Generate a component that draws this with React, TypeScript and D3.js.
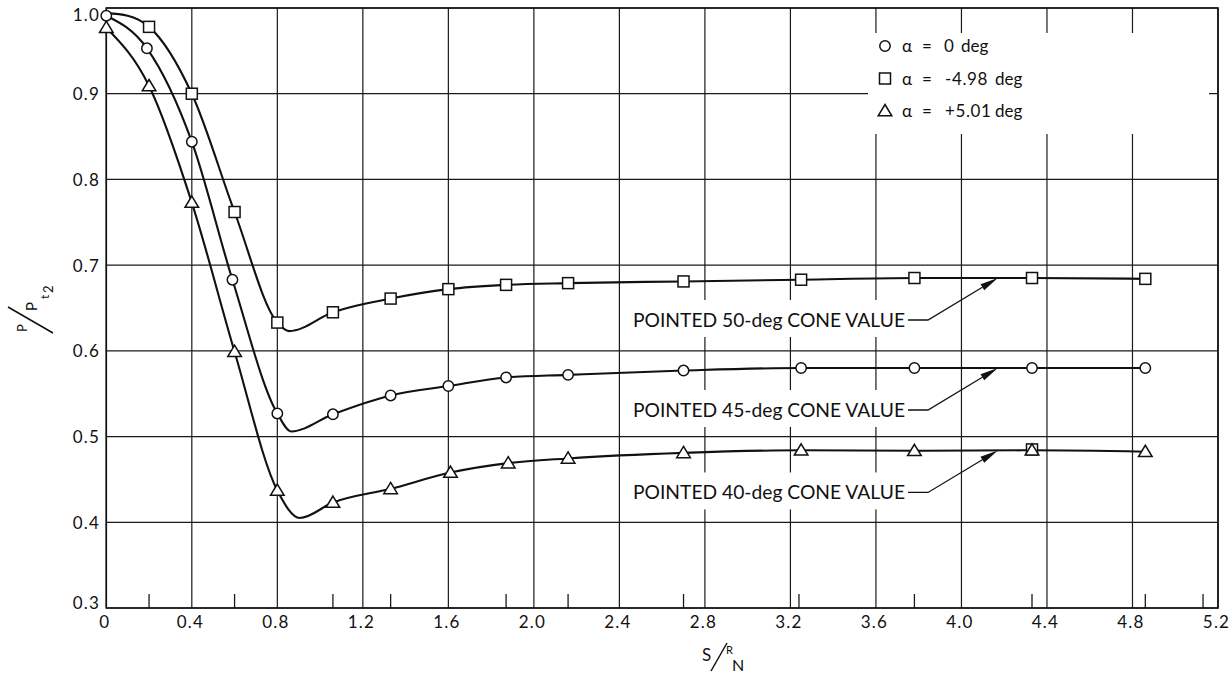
import React, { useEffect } from 'react';
import * as d3 from 'd3';

// Surface pressure ratio along a blunted cone, three angles of attack
const W = 1229;
const H = 673;

const xTickValues = [0, 0.4, 0.8, 1.2, 1.6, 2.0, 2.4, 2.8, 3.2, 3.6, 4.0, 4.4, 4.8, 5.2];
const yTickValues = [0.3, 0.4, 0.5, 0.6, 0.7, 0.8, 0.9, 1.0];
// pressure-orifice stations marked along the bottom edge
const orificeStations = [0.2, 0.6, 1.06, 1.33, 1.87, 2.16, 2.7, 3.24, 3.78, 4.33, 4.86, 5.13];

// alpha = 0 deg (circles)
const sZero = [0, 0.19, 0.4, 0.59, 0.8, 1.06, 1.33, 1.6, 1.87, 2.16, 2.7, 3.25, 3.78, 4.33, 4.86];
const pZero = [0.991, 0.953, 0.844, 0.683, 0.527, 0.526, 0.548, 0.559, 0.569, 0.572, 0.577, 0.58, 0.58, 0.58, 0.58];
// alpha = -4.98 deg (squares)
const sNeg = [0.2, 0.4, 0.6, 0.8, 1.06, 1.33, 1.6, 1.87, 2.16, 2.7, 3.25, 3.78, 4.33, 4.86];
const pNeg = [0.978, 0.9, 0.762, 0.633, 0.645, 0.661, 0.672, 0.677, 0.679, 0.681, 0.683, 0.685, 0.685, 0.684];
// alpha = +5.01 deg (triangles)
const sPos = [0, 0.2, 0.4, 0.6, 0.8, 1.06, 1.33, 1.61, 1.88, 2.16, 2.7, 3.25, 3.78, 4.33, 4.86];
const pPos = [0.977, 0.909, 0.773, 0.599, 0.437, 0.423, 0.439, 0.458, 0.469, 0.4745, 0.481, 0.484, 0.4834, 0.484, 0.4823];
// one extra square plotted under the triangle at the 4.33 station
const sNegExtra = [4.33];
const pNegExtra = [0.485];

// faired-curve knots that are not measured points (nose shoulder, overexpansion dip)
const fairZero = [[0.865, 0.506]];
const fairNeg = [[0, 0.994], [0.1, 0.991], [0.855, 0.623]];
const fairPos = [[0.905, 0.405]];

const legendLabels = ['0', '-4.98', '+5.01'];
const coneLabels = ['POINTED 50-deg CONE VALUE', 'POINTED 45-deg CONE VALUE', 'POINTED 40-deg CONE VALUE'];
const arrowStation = 4.17;

const FONT = 'Lato, "Noto Sans", sans-serif';

type Kind = 'circle' | 'square' | 'triangle';

function knots(s: number[], p: number[], extra: number[][]): [number, number][] {
  const pts: [number, number][] = s.map((v, i) => [v, p[i]]);
  extra.forEach(e => pts.push([e[0], e[1]]));
  pts.sort((a, b) => a[0] - b[0]);
  return pts;
}

function valueAt(pts: [number, number][], s: number): number {
  const i = d3.bisector((d: [number, number]) => d[0]).left(pts, s);
  const a = pts[Math.max(0, i - 1)];
  const b = pts[Math.min(pts.length - 1, i)];
  if (a[0] === b[0]) return a[1];
  return a[1] + ((s - a[0]) / (b[0] - a[0])) * (b[1] - a[1]);
}

function Marker({ kind, x, y }: { kind: Kind; x: number; y: number }) {
  const common = { fill: '#fff', stroke: '#111', strokeWidth: 1.5 };
  if (kind === 'circle') return <circle cx={x} cy={y} r={5.2} {...common} />;
  if (kind === 'square') return <rect x={x - 5.5} y={y - 5.5} width={11} height={11} {...common} />;
  return <path d={`M${x},${y - 6.5}L${x + 6.8},${y + 4.8}L${x - 6.8},${y + 4.8}Z`} {...common} />;
}

export default function App() {
  useEffect(() => {
    document.body.style.margin = '0';
  }, []);

  const x = d3.scaleLinear().domain([0, 5.2]).range([106.3, 1218]);
  const y = d3.scaleLinear().domain([0.3, 1.0]).range([608, 8]);

  const series = [
    { kind: 'circle' as Kind, s: sZero, p: pZero, pts: knots(sZero, pZero, fairZero) },
    { kind: 'square' as Kind, s: sNeg, p: pNeg, pts: knots(sNeg, pNeg, fairNeg) },
    { kind: 'triangle' as Kind, s: sPos, p: pPos, pts: knots(sPos, pPos, fairPos) },
  ];

  const line = d3
    .line<[number, number]>()
    .x(d => x(d[0]))
    .y(d => y(d[1]))
    .curve(d3.curveMonotoneX);

  // callout order: 50-deg (squares), 45-deg (circles), 40-deg (triangles)
  const annotated = [series[1], series[0], series[2]];

  const gridColor = '#1a1a1a';

  return (
    <svg width={W} height={H} style={{ position: 'absolute', left: 0, top: 0, background: '#fff' }}
      fontFamily={FONT}>
      <rect x={0} y={0} width={W} height={H} fill="#fff" />

      {/* grid */}
      {yTickValues.map(v => (
        <line key={'h' + v} x1={x(0)} x2={x(5.2)} y1={y(v)} y2={y(v)} stroke={gridColor} strokeWidth={1.2} />
      ))}
      {xTickValues.map(v => (
        <line key={'v' + v} x1={x(v)} x2={x(v)} y1={y(1.0)} y2={y(0.3)} stroke={gridColor} strokeWidth={1.2} />
      ))}
      {orificeStations.map(v => (
        <line key={'t' + v} x1={x(v)} x2={x(v)} y1={y(0.3)} y2={y(0.3) - 14} stroke={gridColor} strokeWidth={1.3} />
      ))}

      {/* white panels that interrupt the grid behind the lettering */}
      <rect x={868} y={33} width={1209 - 868} height={101} fill="#fff" />
      {annotated.map((sr, i) => {
        const yt = y(valueAt(sr.pts, arrowStation));
        return <rect key={'bg' + i} x={627} y={yt + 22} width={300} height={37} fill="#fff" />;
      })}

      {/* frame */}
      <rect x={x(0)} y={y(1.0)} width={x(5.2) - x(0)} height={y(0.3) - y(1.0)} fill="none" stroke="#111" strokeWidth={1.6} />

      {/* faired curves */}
      {series.map((sr, i) => (
        <path key={'c' + i} d={line(sr.pts) || ''} fill="none" stroke="#111" strokeWidth={2.1} />
      ))}

      {/* measured points */}
      {sNegExtra.map((sv, j) => (
        <Marker key={'e' + j} kind="square" x={x(sv)} y={y(pNegExtra[j])} />
      ))}
      {series.map((sr, i) => (
        <g key={'m' + i}>
          {sr.s.map((sv, j) => (
            <Marker key={j} kind={sr.kind} x={x(sv)} y={y(sr.p[j])} />
          ))}
        </g>
      ))}

      {/* cone-value callouts */}
      {annotated.map((sr, i) => {
        const tipX = x(arrowStation);
        const tipY = y(valueAt(sr.pts, arrowStation));
        const legY = tipY + 42;
        const sx = 928;
        const ang = Math.atan2(tipY - legY, tipX - sx);
        const len = 18;
        const hw = 3.6;
        const bx = tipX - len * Math.cos(ang);
        const by = tipY - len * Math.sin(ang);
        const px = -Math.sin(ang) * hw;
        const py = Math.cos(ang) * hw;
        return (
          <g key={'a' + i}>
            <text x={633} y={tipY + 49} fontSize={18.5} fill="#111" textLength={272} lengthAdjust="spacingAndGlyphs">
              {coneLabels[i]}
            </text>
            <polyline points={`908,${legY} ${sx},${legY} ${bx},${by}`} fill="none" stroke="#111" strokeWidth={1.3} />
            <path d={`M${tipX},${tipY}L${bx + px},${by + py}L${bx - px},${by - py}Z`} fill="#111" />
          </g>
        );
      })}

      {/* legend */}
      {series.map((sr, i) => {
        const ly = 52 + i * 32.5;
        return (
          <g key={'l' + i} fontSize={17} fill="#111">
            <Marker kind={sr.kind} x={885} y={ly - 6} />
            <text x={902} y={ly}>α</text>
            <text x={922} y={ly}>=</text>
            <text x={i === 0 ? 944 : 945} y={ly} letterSpacing={0.6}>{legendLabels[i]}</text>
            <text x={i === 0 ? 961 : 995} y={ly}>deg</text>
          </g>
        );
      })}

      {/* tick labels */}
      {xTickValues.map(v => (
        <text key={'xl' + v} x={x(v) - 1.5} y={628} fontSize={17} textAnchor="middle" letterSpacing={1.2} fill="#111">
          {v === 0 ? '0' : v.toFixed(1)}
        </text>
      ))}
      {yTickValues.map(v => (
        <text key={'yl' + v} x={100} y={Math.min(Math.max(y(v), 14), 602)} fontSize={17} textAnchor="end"
          dominantBaseline="central" letterSpacing={1.2} fill="#111">
          {v.toFixed(1)}
        </text>
      ))}

      {/* axis titles */}
      <g fill="#111">
        <text x={702} y={661} fontSize={17}>S</text>
        <line x1={711} y1={671} x2={727} y2={643} stroke="#111" strokeWidth={1.5} />
        <text x={726} y={654} fontSize={11}>R</text>
        <text x={732} y={671} fontSize={16}>N</text>
      </g>
      <g transform="translate(32,309) rotate(-90)" fill="#111">
        <text x={-23} y={-5} fontSize={13}>P</text>
        <line x1={-24} y1={21} x2={2} y2={-24} stroke="#111" strokeWidth={1.5} />
        <text x={-2} y={5} fontSize={15}>P</text>
        <text x={10} y={17} fontSize={12}>t</text>
        <text x={16} y={21} fontSize={13}>2</text>
      </g>
    </svg>
  );
}
